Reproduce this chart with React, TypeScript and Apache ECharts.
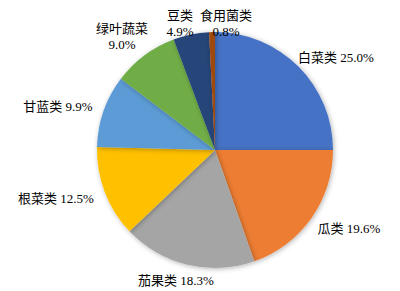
import React, { useEffect, useRef } from "react";
import * as echarts from "echarts";

// Vegetable categories and their share (%)
const categories = ["白菜类", "瓜类", "茄果类", "根菜类", "甘蓝类", "绿叶蔬菜", "豆类", "食用菌类"];
const shares = [25.0, 19.6, 18.3, 12.5, 9.9, 9.0, 4.9, 0.8];
const colors = ["#4472C4", "#ED7D31", "#A5A5A5", "#FFC000", "#5B9BD5", "#70AD47", "#264478", "#9E480E"];
// Categories whose label breaks onto two lines
const twoLine = ["绿叶蔬菜", "豆类", "食用菌类"];
// Label anchor points (centre of each label block), in pixels
const labelAnchors: [number, number][] = [
  [336, 57],
  [349, 228],
  [176, 280],
  [56, 198],
  [58, 106],
  [122, 36],
  [180, 23],
  [226, 23],
];

export default function App() {
  const ref = useRef<HTMLDivElement>(null);
  useEffect(() => {
    document.body.style.margin = "0";
    const chart = echarts.init(ref.current!, null, { renderer: "svg" });
    chart.setOption({
      animation: false,
      backgroundColor: "#ffffff",
      series: [
        {
          type: "pie",
          center: [215, 150],
          radius: 118,
          startAngle: 90,
          clockwise: true,
          data: categories.map((name, i) => ({
            name,
            value: shares[i],
            itemStyle: { color: colors[i] },
          })),
          itemStyle: {
            shadowBlur: 5,
            shadowColor: "rgba(0,0,0,0.3)",
            shadowOffsetX: 1,
            shadowOffsetY: 1,
          },
          label: {
            show: true,
            position: "inside",
            color: "#000",
            fontSize: 13,
            lineHeight: 16,
            overflow: "none",
            fontFamily: "'Liberation Serif', 'Noto Sans CJK SC', serif",
            align: "center",
            formatter: (p: any) =>
              p.name + (twoLine.includes(p.name) ? "\n" : " ") + Number(p.value).toFixed(1) + "%",
          },
          labelLine: { show: false },
          labelLayout: (p: any) => {
            const [x, y] = labelAnchors[p.dataIndex];
            return { x, y, align: "center", verticalAlign: "middle", hideOverlap: false };
          },
        },
      ],
    });
    return () => chart.dispose();
  }, []);
  return <div ref={ref} style={{ width: 400, height: 291 }} />;
}
